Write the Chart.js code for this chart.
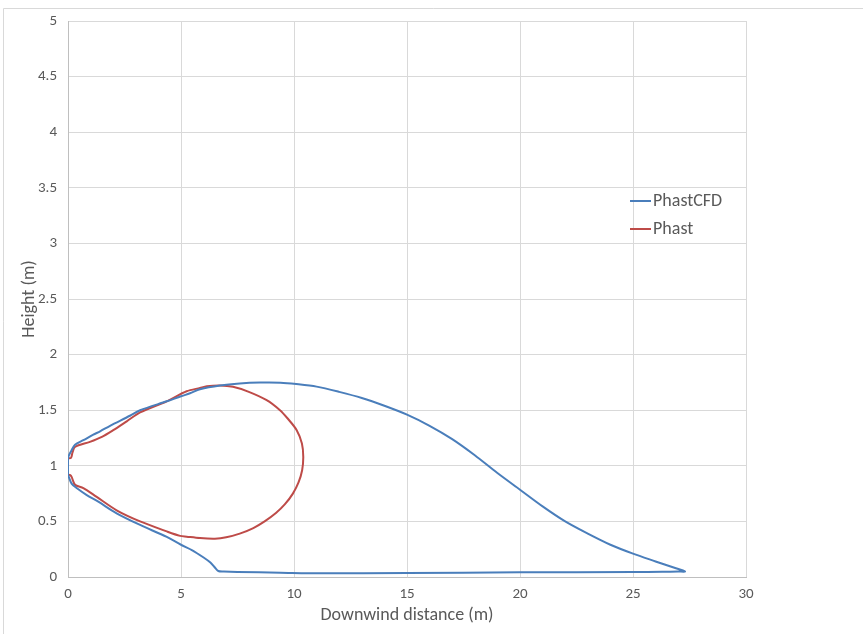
<!doctype html>
<html lang="en">
  <head>
    <meta charset="utf-8">
    <title>Downwind distance vs height</title>
    <style>
      * {
        margin: 0;
        padding: 0;
      }
      body {
        background: white;
        width: 863px;
        height: 634px;
        overflow: hidden;
      }
    </style>
  </head>
  <body>
    <canvas id="myChart" width="863" height="634"></canvas>
    <script src="https://cdn.jsdelivr.net/npm/chart.js"></script>
    <script>
    // PhastCFD: closed outline, starts at the source and runs round clockwise
    const cfdX = [0, 0, 0.16, 0.31, 0.68, 1.12, 1.42, 1.86, 2.74, 3.19, 4.37, 5.0, 5.4, 5.84, 6.73, 7.6, 8.5, 9.4, 10.1,
      11, 12, 13, 14, 15, 16, 17, 18, 19, 20, 21, 22, 23, 24, 25, 26, 26.8, 27.3,
      27.0, 26.3, 25, 20, 15, 11.15, 9.4, 7.5, 6.9, 6.65, 6.5, 6.3, 6.0, 5.5, 5.0, 4.37, 3.19, 2.15, 1.34, 0.83, 0.38, 0.16, 0];
    const cfdY = [0.92, 1.07, 1.14, 1.19, 1.23, 1.28, 1.31, 1.36, 1.45, 1.50, 1.58, 1.625, 1.652, 1.688, 1.722, 1.74, 1.748, 1.747, 1.735,
      1.712, 1.665, 1.61, 1.54, 1.46, 1.36, 1.24, 1.095, 0.935, 0.785, 0.635, 0.50, 0.39, 0.29, 0.21, 0.14, 0.085, 0.05,
      0.049, 0.047, 0.045, 0.042, 0.036, 0.033, 0.039, 0.046, 0.05, 0.054, 0.085, 0.13, 0.175, 0.24, 0.29, 0.36, 0.468, 0.573, 0.677, 0.737, 0.80, 0.84, 0.92];

    // Phast: upper edge, round the loop, back along the lower edge
    const phastX = [0, 0.13, 0.2, 0.31, 0.97, 1.5, 2.0, 2.6, 3.19, 4.37, 5.25, 5.84, 6.14, 6.73, 7.3, 8.0, 8.79, 9.38, 9.7, 10.12,
      10.35, 10.41, 10.36, 10.2, 9.95, 9.6, 9.2, 8.7, 8.2, 7.6, 7.0, 6.5, 5.84, 5.25, 4.96, 4.37, 3.19, 2.15, 1.27, 0.68, 0.31, 0.16, 0.1, 0];
    const phastY = [1.067, 1.07, 1.12, 1.17, 1.215, 1.26, 1.32, 1.40, 1.48, 1.58, 1.67, 1.70, 1.715, 1.722, 1.71, 1.665, 1.59, 1.50, 1.43, 1.32,
      1.2, 1.08, 0.96, 0.85, 0.75, 0.655, 0.575, 0.50, 0.44, 0.39, 0.357, 0.345, 0.35, 0.363, 0.37, 0.41, 0.50, 0.60, 0.72, 0.80, 0.83, 0.90, 0.917, 0.92];

    const xTicks = [0, 5, 10, 15, 20, 25, 30];
    const yTicks = [0, 0.5, 1, 1.5, 2, 2.5, 3, 3.5, 4, 4.5, 5];

    const toPoints = (xs, ys) => xs.map((x, i) => ({ x: x, y: ys[i] }));

    const fontFamily = "'Carlito', 'Lato', sans-serif";
    const textColor = '#595959';

    // white page with the thin frame along the top and left
    const framePlugin = {
      id: 'frame',
      beforeDraw(chart) {
        const ctx = chart.ctx;
        ctx.save();
        ctx.fillStyle = 'white';
        ctx.fillRect(0, 0, chart.width, chart.height);
        ctx.strokeStyle = '#d9d9d9';
        ctx.lineWidth = 1;
        ctx.beginPath();
        ctx.moveTo(3.5, chart.height);
        ctx.lineTo(3.5, 8.5);
        ctx.lineTo(chart.width, 8.5);
        ctx.stroke();
        ctx.restore();
      }
    };

    // legend to the right of the plot, like the original
    const sideLegend = {
      id: 'sideLegend',
      afterDraw(chart) {
        const ctx = chart.ctx;
        const x0 = chart.chartArea.right - 116;
        let y = 201;
        ctx.save();
        ctx.font = '18px ' + fontFamily;
        ctx.textBaseline = 'middle';
        chart.data.datasets.forEach(ds => {
          ctx.strokeStyle = ds.borderColor;
          ctx.lineWidth = 2;
          ctx.beginPath();
          ctx.moveTo(x0, y);
          ctx.lineTo(x0 + 21, y);
          ctx.stroke();
          ctx.fillStyle = textColor;
          ctx.fillText(ds.label, x0 + 23, y);
          y += 28;
        });
        ctx.restore();
      }
    };

    const data = {
      datasets: [{
        label: 'PhastCFD',
        data: toPoints(cfdX, cfdY),
        borderColor: '#4a7ebb',
        borderWidth: 2,
        showLine: true,
        pointRadius: 0,
        tension: 0.3
      }, {
        label: 'Phast',
        data: toPoints(phastX, phastY),
        borderColor: '#be4b48',
        borderWidth: 2,
        showLine: true,
        pointRadius: 0,
        tension: 0.3
      }]
    };

    const config = {
      type: 'scatter',
      data,
      plugins: [framePlugin, sideLegend],
      options: {
        responsive: false,
        animation: false,
        devicePixelRatio: 1,
        layout: {
          padding: { top: 21, right: 117, left: 0, bottom: 0 }
        },
        plugins: {
          legend: { display: false },
          tooltip: { enabled: false }
        },
        scales: {
          x: {
            type: 'linear',
            min: 0,
            max: 30,
            afterBuildTicks: s => { s.ticks = xTicks.map(v => ({ value: v })); },
            afterFit: s => { s.height = 57; },
            grid: { color: '#d9d9d9', drawTicks: false },
            border: { color: '#bfbfbf' },
            ticks: {
              padding: 8,
              color: textColor,
              font: { family: fontFamily, size: 15 },
              callback: v => String(v)
            },
            title: {
              display: true,
              text: 'Downwind distance (m)',
              color: textColor,
              font: { family: fontFamily, size: 18 },
              padding: { top: 0, bottom: 8 }
            }
          },
          y: {
            type: 'linear',
            min: 0,
            max: 5,
            afterBuildTicks: s => { s.ticks = yTicks.map(v => ({ value: v })); },
            afterFit: s => { s.width = 68; },
            grid: { color: '#d9d9d9', drawTicks: false },
            border: { color: '#bfbfbf' },
            ticks: {
              padding: 11,
              color: textColor,
              font: { family: fontFamily, size: 15 },
              callback: v => String(v)
            },
            title: {
              display: true,
              text: 'Height (m)',
              color: textColor,
              font: { family: fontFamily, size: 18 },
              padding: { top: 19, bottom: 0 }
            }
          }
        }
      }
    };

    const myChart = new Chart(document.getElementById('myChart'), config);
    </script>
  </body>
</html>
